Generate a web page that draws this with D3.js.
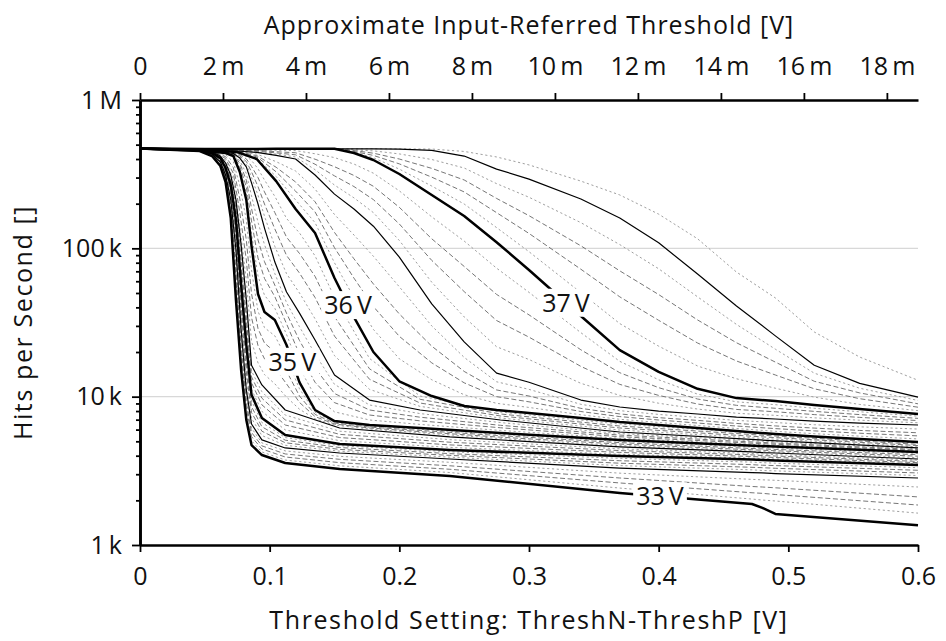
<!DOCTYPE html>
<html>
<head>
<meta charset="utf-8">
<script src="https://cdn.jsdelivr.net/npm/d3@7"></script>
<style>
  html, body { margin: 0; padding: 0; background: #fff; }
  svg text { font-family: "Open Sans", "Liberation Sans", sans-serif; fill: #111; }
  .title { letter-spacing: 1px; }
</style>
</head>
<body>
<svg id="chart" width="946" height="641"></svg>
<script>
// Threshold scans: hit rate (in thousands of hits per second) versus the
// ThreshN-ThreshP setting, one scan per sensor bias voltage.

// Scans 33.0 V .. 34.5 V share this set of threshold settings [V]
const gridLow = [0, 0.046, 0.0555, 0.062, 0.066, 0.070, 0.074, 0.078, 0.082, 0.086, 0.094, 0.112, 0.154, 0.239, 0.370, 0.472, 0.480, 0.490, 0.600];
const biasLow = [33.0, 33.1, 33.2, 33.3, 33.4, 33.5, 33.6, 33.7, 33.8, 33.9, 34.0, 34.1, 34.2, 34.3, 34.4, 34.5];
const hitsLow = [
  [471, 453, 419, 359, 280, 160, 44.9, 15.1, 6.96, 4.72, 4.04, 3.57, 3.25, 2.92, 2.24, 1.89, 1.78, 1.62, 1.36],
  [471, 454, 422, 363, 286, 169, 52.4, 17.1, 7.64, 5.04, 4.24, 3.74, 3.42, 3.08, 2.42, 2.04, 2.01, 1.98, 1.64],
  [471, 455, 425, 368, 292, 179, 61.2, 19.4, 8.39, 5.38, 4.44, 3.92, 3.59, 3.24, 2.62, 2.25, 2.23, 2.19, 1.86],
  [471, 455, 428, 372, 299, 189, 71.4, 21.9, 9.20, 5.74, 4.66, 4.11, 3.78, 3.42, 2.83, 2.48, 2.46, 2.43, 2.11],
  [471, 456, 430, 378, 305, 200, 83.6, 24.8, 10.1, 6.14, 4.88, 4.31, 3.96, 3.61, 3.05, 2.77, 2.75, 2.73, 2.46],
  [471, 456, 432, 382, 312, 212, 97.4, 28.1, 11.1, 6.54, 5.11, 4.51, 4.17, 3.80, 3.30, 3.08, 3.06, 3.03, 2.83],
  [471, 456, 434, 386, 319, 222, 107, 32.4, 12.8, 7.16, 5.47, 4.70, 4.29, 3.91, 3.43, 3.21, 3.18, 3.16, 2.94],
  [471, 456, 436, 392, 326, 232, 117, 37.2, 14.7, 7.83, 5.85, 4.89, 4.41, 4.02, 3.56, 3.34, 3.32, 3.29, 3.06],
  [471, 456, 437, 396, 333, 244, 129, 42.8, 16.9, 8.57, 6.27, 5.09, 4.54, 4.13, 3.70, 3.48, 3.45, 3.43, 3.19],
  [471, 456, 439, 402, 340, 255, 142, 49.2, 19.4, 9.38, 6.70, 5.30, 4.67, 4.25, 3.84, 3.62, 3.59, 3.56, 3.32],
  [471, 456, 439, 406, 348, 267, 155, 56.6, 22.3, 10.3, 7.18, 5.52, 4.80, 4.37, 3.98, 3.77, 3.74, 3.71, 3.46],
  [471, 457, 441, 409, 353, 275, 165, 64.1, 25.6, 11.2, 7.96, 5.97, 5.05, 4.55, 4.09, 3.85, 3.83, 3.80, 3.52],
  [471, 458, 442, 412, 359, 284, 176, 72.6, 29.5, 12.4, 8.81, 6.44, 5.30, 4.73, 4.21, 3.95, 3.92, 3.89, 3.59],
  [471, 459, 444, 414, 365, 293, 187, 82.0, 33.9, 13.6, 9.77, 6.97, 5.57, 4.93, 4.33, 4.05, 4.01, 3.98, 3.66],
  [471, 459, 445, 417, 370, 303, 199, 92.9, 39.0, 14.9, 10.8, 7.52, 5.85, 5.13, 4.45, 4.14, 4.10, 4.07, 3.73],
  [471, 460, 446, 419, 376, 312, 212, 105, 44.9, 16.3, 12.0, 8.13, 6.15, 5.35, 4.58, 4.24, 4.20, 4.17, 3.80]
];

// Scans 34.6 V .. 35.9 V
const gridMid = [0, 0.046, 0.058, 0.066, 0.072, 0.077, 0.082, 0.086, 0.091, 0.096, 0.104, 0.113, 0.123, 0.135, 0.150, 0.177, 0.216, 0.278, 0.370, 0.478, 0.600];
const biasMid = [34.6, 34.7, 34.8, 34.9, 35.0, 35.1, 35.2, 35.3, 35.4, 35.5, 35.6, 35.7, 35.8, 35.9];
const hitsMid = [
  [471, 460, 441, 393, 292, 140, 61.1, 23.7, 16.9, 14.1, 12.2, 9.93, 8.23, 7.09, 6.44, 6.05, 5.71, 5.22, 4.68, 4.27, 3.88],
  [471, 460, 442, 403, 320, 174, 83.4, 34.2, 22.1, 18.0, 15.6, 12.2, 9.14, 7.34, 6.54, 6.15, 5.81, 5.33, 4.79, 4.36, 3.97],
  [471, 460, 443, 415, 350, 215, 114, 49.5, 28.8, 23.0, 20.0, 14.9, 10.1, 7.59, 6.64, 6.24, 5.92, 5.46, 4.90, 4.45, 4.06],
  [471, 460, 444, 427, 383, 264, 155, 71.6, 37.7, 29.2, 25.7, 18.2, 11.3, 7.86, 6.75, 6.34, 6.03, 5.57, 5.01, 4.55, 4.15],
  [471, 460, 446, 439, 419, 327, 212, 104, 49.2, 37.2, 32.9, 22.3, 12.5, 8.13, 6.85, 6.44, 6.15, 5.69, 5.11, 4.65, 4.24],
  [471, 460, 447, 440, 423, 341, 235, 126, 65.1, 48.3, 39.4, 26.3, 15.6, 10.1, 7.90, 6.96, 6.50, 5.92, 5.24, 4.74, 4.29],
  [471, 460, 447, 441, 426, 356, 260, 153, 86.0, 62.7, 47.2, 31.0, 19.3, 12.5, 9.11, 7.52, 6.87, 6.17, 5.37, 4.83, 4.34],
  [471, 460, 448, 441, 430, 374, 288, 186, 114, 81.3, 56.4, 36.5, 23.9, 15.6, 10.5, 8.13, 7.27, 6.41, 5.51, 4.92, 4.40],
  [471, 460, 449, 442, 433, 389, 319, 226, 150, 106, 67.5, 43.1, 29.6, 19.4, 12.1, 8.79, 7.69, 6.69, 5.64, 5.02, 4.46],
  [471, 460, 450, 443, 436, 406, 354, 276, 199, 137, 80.8, 50.8, 36.6, 24.1, 14.0, 9.49, 8.13, 6.96, 5.78, 5.11, 4.51],
  [471, 460, 450, 444, 438, 413, 369, 301, 228, 165, 103, 67.5, 50.0, 33.5, 18.9, 11.2, 8.60, 7.18, 5.96, 5.24, 4.59],
  [471, 460, 451, 446, 440, 420, 385, 328, 261, 199, 135, 89.6, 68.1, 46.6, 25.6, 13.1, 9.06, 7.41, 6.15, 5.37, 4.68],
  [471, 460, 452, 447, 442, 428, 401, 357, 300, 240, 174, 119, 92.3, 64.7, 34.6, 15.4, 9.60, 7.64, 6.34, 5.51, 4.77],
  [471, 460, 452, 448, 444, 435, 418, 391, 344, 289, 224, 159, 127, 89.0, 46.7, 18.1, 10.1, 7.88, 6.54, 5.64, 4.86]
];

// Scans 36.0 V .. 37.6 V
const gridHigh = [0, 0.05, 0.075, 0.09, 0.105, 0.12, 0.135, 0.15, 0.165, 0.18, 0.2, 0.225, 0.25, 0.275, 0.3, 0.34, 0.37, 0.4, 0.43, 0.46, 0.49, 0.52, 0.555, 0.6];
const biasHigh = [36.0, 36.1, 36.2, 36.3, 36.4, 36.5, 36.6, 36.7, 36.8, 36.9, 37.0, 37.1, 37.2, 37.3, 37.4, 37.5, 37.6];
const hitsHigh = [
  [471, 460, 446, 400, 284, 184, 127, 63.1, 34.4, 20.0, 12.7, 10.1, 8.65, 8.13, 7.76, 7.18, 6.75, 6.44, 6.15, 5.87, 5.60, 5.39, 5.19, 4.95],
  [471, 460, 447, 407, 305, 212, 149, 79.8, 46.6, 28.4, 18.0, 13.0, 10.3, 9.02, 8.46, 7.55, 7.04, 6.70, 6.39, 6.10, 5.84, 5.63, 5.42, 5.19],
  [471, 460, 448, 414, 328, 243, 176, 101, 63.0, 40.5, 25.5, 16.9, 12.4, 10.0, 9.23, 7.94, 7.34, 6.96, 6.64, 6.34, 6.09, 5.88, 5.67, 5.44],
  [471, 460, 450, 422, 352, 280, 206, 128, 85.0, 57.5, 36.1, 21.9, 14.8, 11.1, 10.1, 8.34, 7.65, 7.22, 6.92, 6.60, 6.35, 6.14, 5.92, 5.71],
  [471, 460, 451, 432, 384, 332, 251, 169, 123, 88.4, 55.0, 30.0, 18.4, 12.6, 11.2, 8.88, 8.05, 7.59, 7.25, 6.92, 6.69, 6.47, 6.26, 6.05],
  [471, 460, 453, 443, 423, 400, 312, 232, 184, 141, 87.3, 42.2, 23.4, 14.4, 12.5, 9.49, 8.52, 8.00, 7.64, 7.29, 7.07, 6.85, 6.64, 6.44],
  [471, 461, 456, 447, 432, 413, 339, 267, 219, 174, 113, 59.1, 34.5, 21.7, 17.8, 12.3, 10.2, 9.03, 8.25, 7.73, 7.48, 7.20, 6.94, 6.67],
  [471, 463, 459, 452, 440, 427, 369, 308, 261, 213, 146, 82.9, 51.1, 32.6, 25.2, 16.0, 12.1, 10.2, 8.92, 8.20, 7.91, 7.57, 7.25, 6.90],
  [471, 464, 461, 458, 448, 441, 399, 355, 310, 262, 189, 116, 75.5, 48.9, 35.6, 20.7, 14.5, 11.5, 9.64, 8.74, 8.35, 7.96, 7.57, 7.14],
  [471, 466, 464, 462, 458, 456, 434, 409, 370, 321, 244, 163, 112, 73.5, 50.5, 27.0, 17.3, 13.0, 10.4, 9.23, 8.83, 8.35, 7.91, 7.39],
  [471, 468, 468, 468, 469, 470, 470, 469, 439, 394, 317, 229, 165, 110, 71.4, 35.0, 20.6, 14.7, 11.3, 9.78, 9.35, 8.79, 8.25, 7.64],
  [471, 468, 468, 468, 469, 470, 470, 469, 445, 408, 342, 263, 199, 138, 94.9, 50.3, 31.1, 21.9, 16.1, 13.2, 11.4, 9.93, 8.86, 8.05],
  [471, 468, 468, 468, 469, 470, 470, 469, 450, 423, 371, 302, 240, 174, 126, 72.3, 47.1, 32.7, 23.0, 17.4, 14.0, 11.3, 9.69, 8.49],
  [471, 468, 468, 468, 469, 470, 470, 469, 456, 438, 400, 346, 289, 217, 166, 104, 70.5, 48.8, 32.9, 23.1, 17.1, 12.7, 10.6, 8.95],
  [471, 468, 468, 468, 469, 470, 470, 469, 461, 454, 433, 397, 348, 273, 221, 149, 106, 72.8, 47.1, 30.7, 20.9, 14.4, 11.4, 9.43],
  [471, 468, 468, 468, 469, 470, 470, 469, 469, 469, 467, 457, 419, 342, 293, 215, 160, 109, 67.1, 40.9, 25.7, 16.3, 12.3, 9.94],
  [471, 468, 468, 468, 469, 470, 470, 469, 469, 469, 468, 467, 450, 413, 365, 284, 229, 170, 116, 69.2, 46.3, 27.3, 18.5, 12.9]
];

// Axis ticks
const xTicks = [0, 0.1, 0.2, 0.3, 0.4, 0.5, 0.6];
const xTickLabels = ["0", "0.1", "0.2", "0.3", "0.4", "0.5", "0.6"];
const topTicks = [0, 0.002, 0.004, 0.006, 0.008, 0.010, 0.012, 0.014, 0.016, 0.018];
const topTickLabels = ["0", "2\u2009m", "4\u2009m", "6\u2009m", "8\u2009m", "10\u2009m", "12\u2009m", "14\u2009m", "16\u2009m", "18\u2009m"];
const yTicks = [1, 10, 100, 1000];            // thousands of hits per second
const yTickLabels = ["1\u2009k", "10\u2009k", "100\u2009k", "1\u2009M"];
const inputReferredGain = 1 / 32;             // setting [V] -> input-referred threshold [V]

// Voltage annotations placed on their curves at a threshold setting
const curveLabelBias = [33, 35, 36, 37];
const curveLabelAt = [0.401, 0.1175, 0.1604, 0.3285];

// ---------------------------------------------------------------------------
const svg = d3.select("#chart");
const plot = { left: 140, right: 918, top: 100, bottom: 545 };

const x = d3.scaleLinear().domain([0, 0.6]).range([plot.left, plot.right]);
const xTop = d3.scaleLinear().domain([0, 0.6 * inputReferredGain]).range([plot.left, plot.right]);
const y = d3.scaleLog().domain([1, 1000]).range([plot.bottom, plot.top]);

const scans = [];
const addGroup = (grid, biases, hits) => biases.forEach((b, i) =>
  scans.push({ bias: b, pts: grid.map((g, j) => [g, hits[i][j]]) }));
addGroup(gridLow, biasLow, hitsLow);
addGroup(gridMid, biasMid, hitsMid);
addGroup(gridHigh, biasHigh, hitsHigh);

function kind(b) {
  const t = Math.round(b * 10) % 10;
  if (t === 0) return "major";
  if (t === 5) return "half";
  if (t === 2 || t === 3 || t === 7 || t === 8) return "dash";
  return "dot";
}
const styles = {
  dot:   { stroke: "#9a9a9a", width: 0.95, dash: "2.2 2.6" },
  dash:  { stroke: "#6f6f6f", width: 0.95, dash: "5 2.6" },
  half:  { stroke: "#000",    width: 1.2,  dash: null },
  major: { stroke: "#000",    width: 2.5,  dash: null }
};

// horizontal grid lines
svg.append("g").selectAll("line")
  .data([10, 100]).join("line")
  .attr("x1", plot.left).attr("x2", plot.right)
  .attr("y1", d => y(d)).attr("y2", d => y(d))
  .attr("stroke", "#d8d8d8").attr("stroke-width", 1.2);

const line = d3.line().x(d => x(d[0])).y(d => y(d[1]));
const curves = svg.append("g").attr("fill", "none").attr("stroke-linejoin", "round");
["dot", "dash", "half", "major"].forEach(k => {
  const s = styles[k];
  curves.selectAll("path." + k)
    .data(scans.filter(d => kind(d.bias) === k)).join("path")
    .attr("class", k)
    .attr("d", d => line(d.pts))
    .attr("stroke", s.stroke)
    .attr("stroke-width", s.width)
    .attr("stroke-dasharray", s.dash);
});

// Axes
const fontSize = 25;
function styleAxis(g, tickWidth) {
  g.select(".domain").attr("stroke", "#000").attr("stroke-width", 2.6);
  g.selectAll(".tick line").attr("stroke", "#000").attr("stroke-width", tickWidth);
  g.selectAll(".tick text").attr("font-size", fontSize).attr("fill", "#111")
    .style("font-family", '"Open Sans", "Liberation Sans", sans-serif');
}

const gBottom = svg.append("g").attr("transform", `translate(0,${plot.bottom})`)
  .call(d3.axisBottom(x).tickValues(xTicks).tickFormat((d, i) => xTickLabels[i])
    .tickSize(7).tickPadding(15).tickSizeOuter(0));
styleAxis(gBottom, 1.8);

const gTop = svg.append("g").attr("transform", `translate(0,${plot.top})`)
  .call(d3.axisTop(xTop).tickValues(topTicks).tickFormat((d, i) => topTickLabels[i])
    .tickSize(7).tickPadding(18).tickSizeOuter(0));
styleAxis(gTop, 1.8);

const minorY = y.ticks().filter(v => !yTicks.includes(v));
const gLeftMinor = svg.append("g").attr("transform", `translate(${plot.left},0)`)
  .call(d3.axisLeft(y).tickValues(minorY).tickFormat("").tickSize(4).tickSizeOuter(0));
styleAxis(gLeftMinor, 1.8);

const gLeft = svg.append("g").attr("transform", `translate(${plot.left},0)`)
  .call(d3.axisLeft(y).tickValues(yTicks).tickFormat((d, i) => yTickLabels[i])
    .tickSize(8).tickPadding(10).tickSizeOuter(0));
styleAxis(gLeft, 1.8);

// Axis titles
svg.append("text").attr("class", "title")
  .attr("x", (plot.left + plot.right) / 2).attr("y", 34)
  .attr("text-anchor", "middle").attr("font-size", fontSize)
  .text("Approximate Input-Referred Threshold [V]");
svg.append("text").attr("class", "title")
  .attr("x", (plot.left + plot.right) / 2).attr("y", 629)
  .attr("text-anchor", "middle").attr("font-size", fontSize)
  .style("letter-spacing", "1.6px")
  .text("Threshold Setting: ThreshN-ThreshP [V]");
svg.append("text").attr("class", "title")
  .attr("transform", `translate(32,${(plot.top + plot.bottom) / 2}) rotate(-90)`)
  .attr("text-anchor", "middle").attr("font-size", fontSize)
  .style("letter-spacing", "1.6px")
  .text("Hits per Second []");

// Curve annotations with a white backing
function pointOnCurve(scan, xv) {
  const p = scan.pts;
  for (let i = 1; i < p.length; i++) {
    if (xv <= p[i][0]) {
      const x0 = x(p[i - 1][0]), x1 = x(p[i][0]);
      const y0 = y(p[i - 1][1]), y1 = y(p[i][1]);
      const t = (x(xv) - x0) / (x1 - x0);
      return [x(xv), y0 + t * (y1 - y0)];
    }
  }
  return [x(xv), y(p[p.length - 1][1])];
}
const labelLayer = svg.append("g");
curveLabelBias.forEach((b, i) => {
  const scan = scans.find(s => s.bias === b);
  const [cx, cy] = pointOnCurve(scan, curveLabelAt[i]);
  const g = labelLayer.append("g");
  const rect = g.append("rect").attr("fill", "#fff");
  const t = g.append("text").attr("x", cx).attr("y", cy).attr("dy", "0.35em")
    .attr("text-anchor", "middle").attr("font-size", fontSize)
    .text(b + "\u2009V");
  const bb = t.node().getBBox();
  rect.attr("x", bb.x - 3).attr("y", cy - 14).attr("width", bb.width + 6).attr("height", 28);
});
</script>
</body>
</html>
